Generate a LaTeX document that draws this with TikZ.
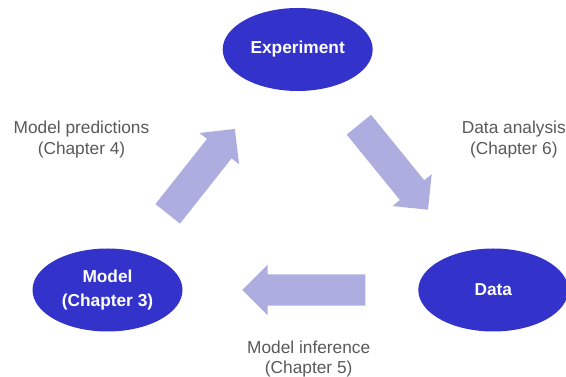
\documentclass[tikz,border=0pt]{standalone}
\usepackage{fontspec}
\setmainfont{Liberation Sans}
\usetikzlibrary{calc,shapes.geometric,shapes.arrows}
\definecolor{stageblue}{RGB}{51,51,204}
\definecolor{flowlilac}{RGB}{173,173,224}
\definecolor{notegray}{RGB}{89,89,89}
\begin{document}
\begin{tikzpicture}[x=1pt, y=1pt,
        stage/.style={ellipse, fill=stageblue, text=white, align=center,
            font=\fontsize{17.3}{24}\selectfont\bfseries,
            minimum width=150pt, minimum height=83pt, inner sep=0pt},
        flow/.style={single arrow, fill=flowlilac, inner xsep=0pt, inner ysep=15.5pt,
            minimum width=50pt, single arrow head extend=9.5pt,
            sloped, allow upside down, anchor=tail},
        note/.style={text=notegray, align=center, inner sep=0pt,
            font=\fontsize{17.3}{20.5}\selectfont}]
        \useasboundingbox (0,0) rectangle (566,377);
        % Research cycle
        \node[stage] (exp) at (297.7,327.5) {Experiment};
        \node[stage] (model) at (107.5,87) {Model\\(Chapter 3)};
        \node[stage] (data) at (493.3,87) {Data};
        \path (model.center) -- node[flow, pos=0.316, minimum height=108.3pt] (predictflow) {} (exp.center);
        \path (exp.center) -- node[flow, pos=0.312, minimum height=109.6pt] (analysisflow) {} (data.center);
        \path (data.center) -- node[flow, pos=0.331, minimum height=123pt] (inferenceflow) {} (model.center);
        % Chapter labels
        \node[note] (predict) at (81.5,237.3) {Model predictions\\(Chapter 4)};
        \node[note] (analysis) at (513.8,237.3) {Data analysis\\(Chapter 6)};
        \node[note] (inference) at (308.7,18) {Model inference\\(Chapter 5)};
    \end{tikzpicture}
\end{document}
